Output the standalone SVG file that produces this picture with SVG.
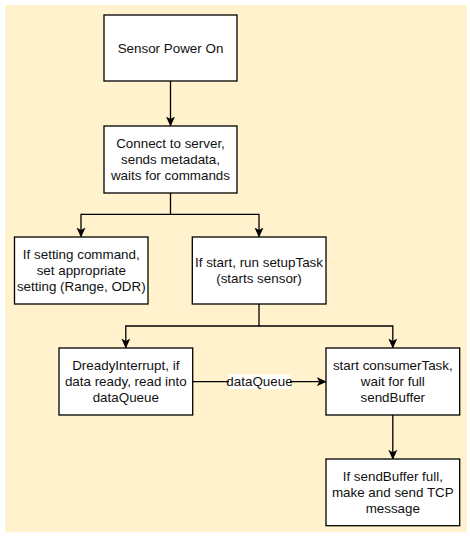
<svg xmlns="http://www.w3.org/2000/svg" width="470" height="538" viewBox="0 0 470 538">
<style>
.bx{fill:#ffffff;stroke:#000000;stroke-width:1.3}
.t{font-family:"Liberation Sans",Arial,sans-serif;font-size:13.4px;fill:#111111;text-anchor:middle}
.c{fill:none;stroke:#000000;stroke-width:1.3}
</style>
<defs>
<marker id="ah" viewBox="0 0 10 10" refX="9" refY="5" markerWidth="10" markerHeight="10" markerUnits="userSpaceOnUse" orient="auto">
<path d="M0,0.5 L10,5 L0,9.5 L2.5,5 Z" fill="#000000"/>
</marker>
</defs>
<rect x="5" y="5" width="462" height="527" fill="#fff2cc"/>
<g id="connectors">
<path class="c" d="M170.5,81 V125.5" marker-end="url(#ah)"/>
<path class="c" d="M170.5,193 V214.3 H81 V236.5" marker-end="url(#ah)"/>
<path class="c" d="M170.5,214.3 H259 V236.5" marker-end="url(#ah)"/>
<path class="c" d="M259,304 V326 H125.8 V347.5" marker-end="url(#ah)"/>
<path class="c" d="M259,326 H392.8 V347.5" marker-end="url(#ah)"/>
<path class="c" d="M192.7,381.7 H325.8" marker-end="url(#ah)"/>
<path class="c" d="M392.8,414.7 V458.8" marker-end="url(#ah)"/>
<rect x="229" y="374.5" width="61" height="14.5" fill="#ffffff"/>
<text class="t" x="259.5" y="386.2">dataQueue</text>
</g>
<g id="n1">
<rect class="bx" x="104" y="15" width="133" height="66"/>
<text class="t" x="170.5" y="52.5">Sensor Power On</text>
</g>
<g id="n2">
<rect class="bx" x="104" y="126" width="133" height="67"/>
<text class="t" x="170.5" y="148">Connect to server,</text>
<text class="t" x="170.5" y="164">sends metadata,</text>
<text class="t" x="170.5" y="180">waits for commands</text>
</g>
<g id="n3">
<rect class="bx" x="14.5" y="237" width="133.5" height="67"/>
<text class="t" x="81.3" y="259">If setting command,</text>
<text class="t" x="81.3" y="275">set appropriate</text>
<text class="t" x="81.3" y="291">setting (Range, ODR)</text>
</g>
<g id="n4">
<rect class="bx" x="192.3" y="237" width="133.7" height="67"/>
<text class="t" x="259" y="267">If start, run setupTask</text>
<text class="t" x="259" y="283">(starts sensor)</text>
</g>
<g id="n5">
<rect class="bx" x="59" y="348" width="133.7" height="67"/>
<text class="t" x="125.8" y="370">DreadyInterrupt, if</text>
<text class="t" x="125.8" y="386">data ready, read into</text>
<text class="t" x="125.8" y="402">dataQueue</text>
</g>
<g id="n6">
<rect class="bx" x="326" y="348" width="133.7" height="67"/>
<text class="t" x="392.8" y="370">start consumerTask,</text>
<text class="t" x="392.8" y="386">wait for full</text>
<text class="t" x="392.8" y="402">sendBuffer</text>
</g>
<g id="n7">
<rect class="bx" x="326" y="459" width="133.7" height="66.7"/>
<text class="t" x="392.8" y="481">If sendBuffer full,</text>
<text class="t" x="392.8" y="497">make and send TCP</text>
<text class="t" x="392.8" y="513">message</text>
</g>
</svg>
